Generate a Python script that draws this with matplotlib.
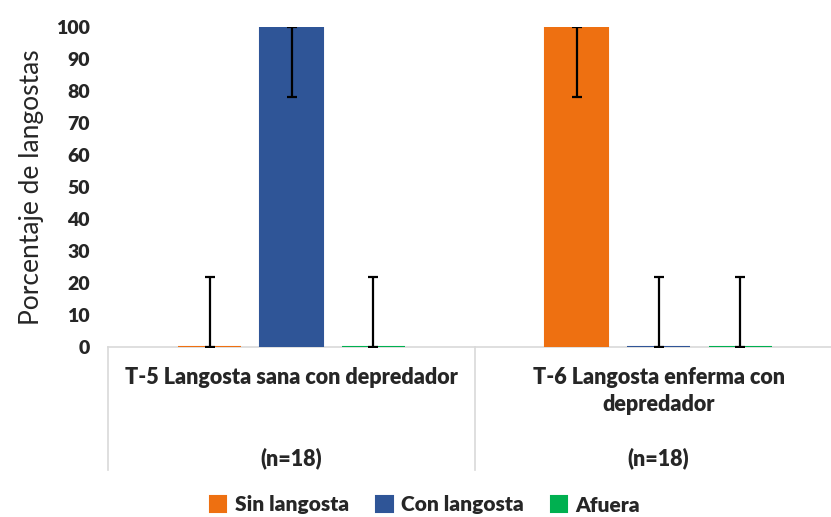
import matplotlib.pyplot as plt
import numpy as np

plt.rcParams["font.family"] = ["Lato", "DejaVu Sans"]

groups = ["T-5 Langosta sana con depredador", "T-6 Langosta enferma con\ndepredador"]
n_labels = ["(n=18)", "(n=18)"]
series = ["Sin langosta", "Con langosta", "Afuera"]
colors = ["#EE7011", "#2F5597", "#00B050"]
values = {
    "Sin langosta": [0, 100],
    "Con langosta": [100, 0],
    "Afuera": [0, 0],
}
error = 22

fig = plt.figure(figsize=(8.31, 5.17), dpi=100)
ax = fig.add_axes([108 / 831, (517 - 347) / 517, (831 - 108) / 831, 320 / 517])

x = np.arange(len(groups))
width = 0.172
step = 0.223
for i, (name, color) in enumerate(zip(series, colors)):
    vals = np.array(values[name], dtype=float)
    pos = x + (i - 1) * step
    ax.bar(pos, vals, width, color=color, edgecolor=color, linewidth=1.5,
           label=name, zorder=3)
    lower = np.minimum(error, vals)
    upper = np.minimum(error, 100 - vals)
    ax.errorbar(pos, vals, yerr=[lower, upper], fmt="none", ecolor="black",
                elinewidth=1.6, capsize=3.5, capthick=1.6, zorder=4)

ax.set_xlim(-0.5, 1.47)
ax.set_ylim(0, 100)
ax.set_yticks(range(0, 101, 10))
ax.set_yticklabels([str(v) for v in range(0, 101, 10)], fontsize=14,
                   fontweight="heavy", color="#262626")
ax.tick_params(axis="y", length=0, pad=13)
ax.set_xticks([])
ax.set_ylabel("Porcentaje de langostas", fontsize=19, color="#262626", labelpad=9)

for s in ["top", "right", "left"]:
    ax.spines[s].set_visible(False)
ax.spines["bottom"].set_color("#d9d9d9")
ax.spines["bottom"].set_linewidth(1.2)
ax.spines["bottom"].set_zorder(2)

# category boxes below the axis
trans = ax.get_xaxis_transform()
for b in [-0.5, 0.5, 1.5]:
    ax.plot([b, b], [0, -123 / 320], transform=trans, color="#d9d9d9",
            linewidth=1.2, clip_on=False)
for xi, g, n in zip(x, groups, n_labels):
    ax.text(xi, -20 / 320, g, transform=trans, ha="center", va="top",
            fontsize=15.5, fontweight="heavy", color="#262626", linespacing=1.35)
    ax.text(xi, -111 / 320, n, transform=trans, ha="center", va="center",
            fontsize=15.5, fontweight="heavy", color="#262626")

fig.legend(loc="center", bbox_to_anchor=(425 / 831, 1 - 505 / 517), ncol=3,
           frameon=False, handlelength=0.8, handleheight=0.8, handletextpad=0.4,
           columnspacing=1.3, prop={"size": 15, "weight": "heavy"})
for t in fig.legends[0].get_texts():
    t.set_color("#262626")

fig.savefig("out.png", dpi=100)
